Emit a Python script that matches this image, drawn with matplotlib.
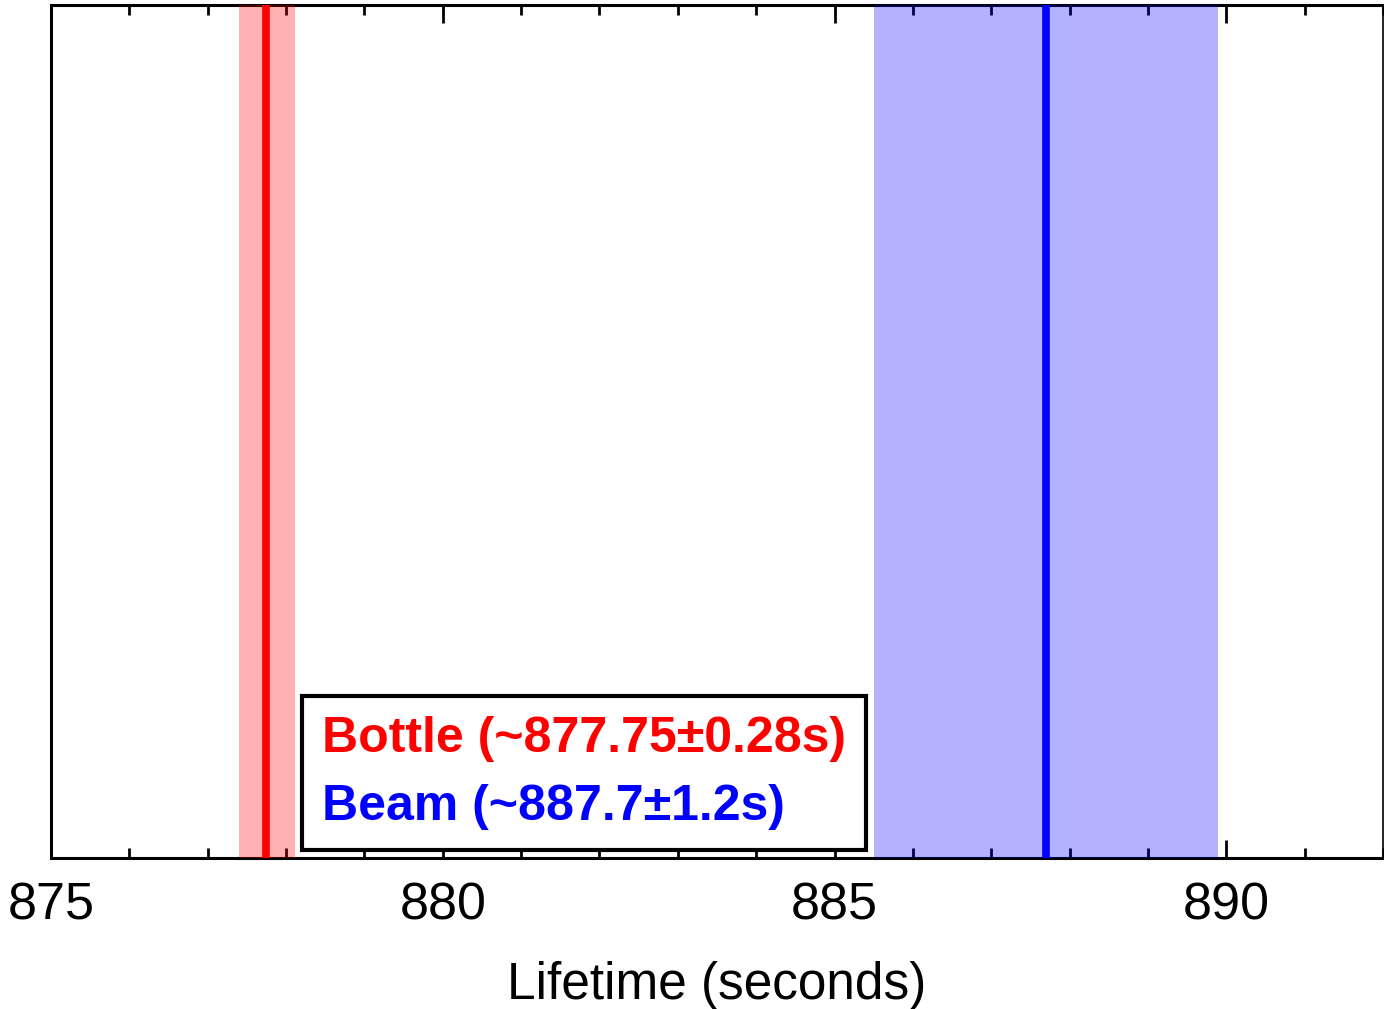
" neutron lifetime: bottle vs beam "
import matplotlib.pyplot as plt
from matplotlib.lines import Line2D
from matplotlib.ticker import MultipleLocator

# values
names = ["Bottle", "Beam"]
centres = [877.75, 887.7]
band_lo = [877.40, 885.50]
band_hi = [878.11, 889.90]
labels = ["Bottle (~877.75\u00b10.28s)", "Beam (~887.7\u00b11.2s)"]
colours = ["red", "blue"]
xticks = [875, 880, 885, 890]

plt.rcParams.update({'font.family': ['Liberation Sans', 'DejaVu Sans']})
fig = plt.figure(figsize=(13.84, 10.09), dpi=100)
ax = fig.add_axes([0.0368, 0.1497, 0.9625, 0.8453])

for c, lo, hi, col in zip(centres, band_lo, band_hi, colours):
    ax.axvspan(lo, hi, color=col, alpha=0.3, lw=0, zorder=3)
    ax.axvline(c, color=col, lw=5.5, zorder=4)

ax.set_xlim(875, 892)
ax.set_ylim(0, 1)
ax.set_yticks([])
ax.set_xticks(xticks)
ax.xaxis.set_minor_locator(MultipleLocator(1))
ax.tick_params(axis='x', which='both', direction='in', top=True, width=2,
               labelsize=37.5, pad=17)
ax.tick_params(axis='x', which='major', length=13)
ax.tick_params(axis='x', which='minor', length=7)
for s in ["left", "bottom", "top"]:
    ax.spines[s].set_linewidth(2.2)
ax.spines["right"].set_linewidth(1.2)
ax.set_xlabel("Lifetime (seconds)", fontsize=37, labelpad=22)

handles = [Line2D([], [], color='none') for _ in names]
leg = ax.legend(handles, labels, loc='lower left',
                bbox_to_anchor=(0.1884, 0.0094), handlelength=0,
                handletextpad=0, labelcolor=colours, fancybox=False,
                framealpha=1, edgecolor='black', borderpad=0.4,
                labelspacing=0.43, borderaxespad=0,
                prop={'size': 36, 'weight': 'bold'})
leg.get_frame().set_linewidth(3)
leg.set_zorder(5)

fig.savefig("out.png", dpi=100)
